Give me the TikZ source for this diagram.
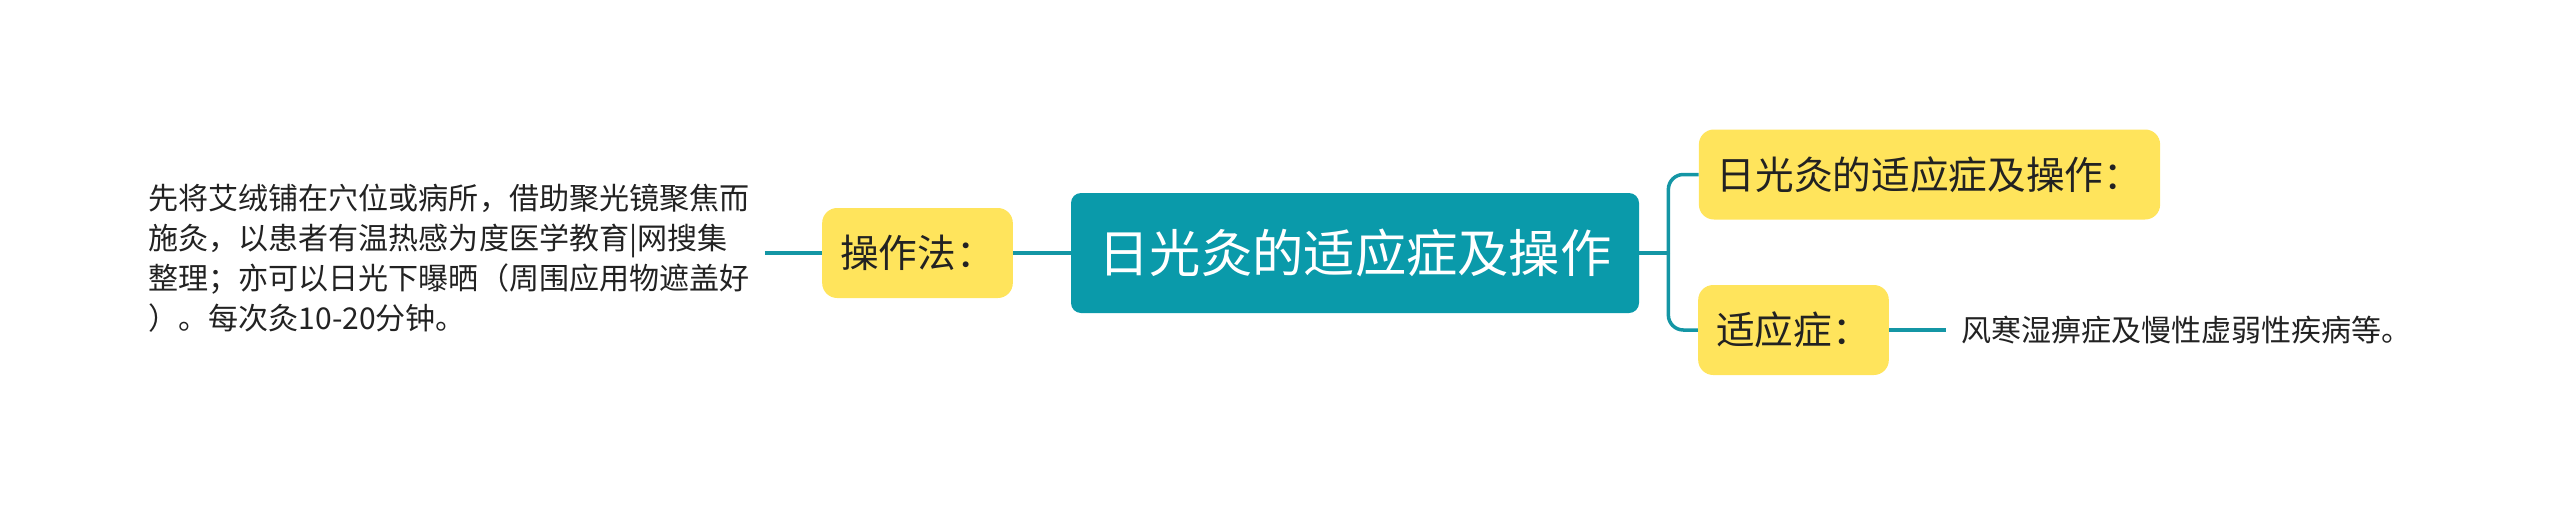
\documentclass[tikz,border=0pt]{standalone}
\usepackage{fontspec}
\setmainfont{Noto Sans CJK SC}
\definecolor{topicteal}{HTML}{0A9AAA}
\definecolor{linkteal}{HTML}{1496A5}
\definecolor{subyellow}{HTML}{FFE45C}
\definecolor{inkgray}{HTML}{222222}
\tikzstyle{maintopic} = [rectangle, rounded corners=0.2cm, minimum width=11.36cm, minimum height=2.4cm, text centered, fill=topicteal, text=white, font=\fontsize{29.2}{35}\selectfont]
\tikzstyle{subtopic}  = [rectangle, rounded corners=0.3cm, minimum height=1.8cm, text centered, fill=subyellow, text=inkgray, inner xsep=0.36cm, font=\fontsize{22}{26}\selectfont]
\tikzstyle{leaf}      = [align=left, inner xsep=0.3cm, inner ysep=0pt, text=inkgray, font=\fontsize{17.1}{22.8}\selectfont]
\tikzstyle{link}      = [line width=0.07cm, draw=linkteal]

\begin{document}
\begin{tikzpicture}[node distance=8.75cm]
    \useasboundingbox (0,0) rectangle (51.2,-10.1);
    % Nodes
    \node (center_topic)      [maintopic] at (27.1,-5.06) {日光灸的适应症及操作};
    %% Left branch
    \node (op_method)         [subtopic, left of=center_topic] {操作法：};
    \node (op_detail)         [leaf, anchor=east, xshift=-1.14cm, yshift=-0.1cm] at (op_method.west)
                              {先将艾绒铺在穴位或病所，借助聚光镜聚焦而\\施灸，以患者有温热感为度医学教育|网搜集\\整理；亦可以日光下曝晒（周围应用物遮盖好\\）。每次灸10-20分钟。};
    %% Right branch
    \node (sun_title)         [subtopic, right of=center_topic, xshift=2.74cm, yshift=1.57cm]  {日光灸的适应症及操作：};
    \node (indication)        [subtopic, right of=center_topic, xshift=0.02cm, yshift=-1.54cm] {适应症：};
    \node (indication_detail) [leaf, anchor=west, xshift=1.13cm] at (indication.east)
                              {风寒湿痹症及慢性虚弱性疾病等。};

    % Connectors
    \draw [link] (op_detail.east |- op_method.west) -- (op_method.west);
    \draw [link] (op_method)                         -- (center_topic);
    \draw [link] (center_topic.east)                 -- ++(0.58,0) coordinate (fork);
    \draw [link, rounded corners=0.3cm] (fork)       |- (sun_title.west);
    \draw [link, rounded corners=0.3cm] (fork)       |- (indication.west);
    \draw [link] (indication.east)                   -- (indication_detail.west);
\end{tikzpicture}
\end{document}
